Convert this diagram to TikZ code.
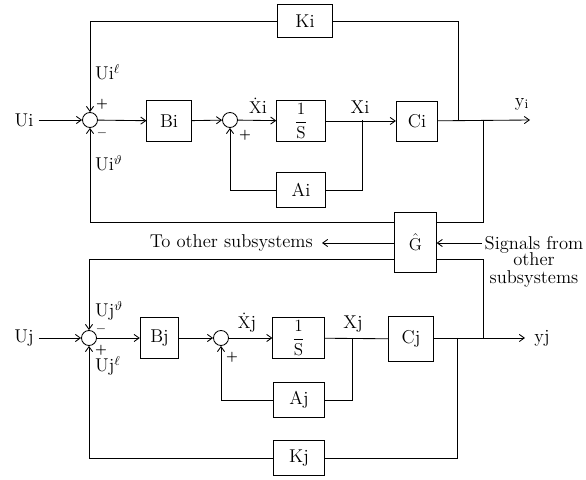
\documentclass[tikz,border=0pt]{standalone}
\usepackage{amsmath,amssymb}
\usepackage{tikz}
\usetikzlibrary{arrows.meta, positioning, calc}

\tikzset{
    blk/.style={draw, inner sep=0pt},
    sum/.style={draw, circle, minimum size=10.5pt, inner sep=0pt},
    sgn/.style={font=\small\bfseries, inner sep=0pt}
}

\begin{document}
\begin{tikzpicture}[x=0.7pt, y=-0.7pt, >={Straight Barb[length=3.5pt,width=5pt]}, line width=0.6pt, font=\fontsize{13pt}{15pt}\selectfont]

    \useasboundingbox (0,0) rectangle (586,480);

    % Subsystem i: forward path
    \node (Ui) at (24,120) {Ui};
    \node[sum] (si1) at (90,120) {};
    \node[blk, minimum width=31pt, minimum height=29pt] (Bi) at (169,121) {Bi};
    \node[sum] (si2) at (230,120) {};
    \node[blk, minimum width=34pt, minimum height=29pt] (Ii) at (301,121) {$\dfrac{1}{\mathrm{S}}$};
    \node[blk, minimum width=29pt, minimum height=28pt] (Ci) at (417,121) {Ci};
    \node[blk, minimum width=34pt, minimum height=25pt] (Ai) at (301,190) {Ai};
    \node[blk, minimum width=39pt, minimum height=23pt] (Ki) at (305,21) {Ki};
    \coordinate (yi) at (530,120);
    \coordinate (xitap) at (362,120);
    \coordinate (kitap) at (458,120);
    \coordinate (gitap) at (483,120);

    \draw[->] (Ui) -- (si1);
    \draw[->] (si1) -- (Bi);
    \draw[->] (Bi) -- (si2);
    \draw[->] (si2) -- (Ii);
    \draw[->] (Ii) -- (Ci);
    \draw[->] (Ci) -- (yi);

    % Subsystem i: feedback loops
    \draw (xitap) |- (Ai);
    \draw[->] (Ai) -| (si2);
    \draw (kitap) |- (Ki);
    \draw[->] (Ki) -| (si1);

    \node (dxi) at (258,106) {$\dot{\mathrm{X}}$i};
    \node (xi) at (360,107) {Xi};
    \node (yilab) at (522,104) {y$_{\text{i}}$};
    \node[right] (uil) at (90,72) {Ui$^{\ell}$};
    \node[right] (uiv) at (90,163) {Ui$^{\vartheta}$};
    \node[sgn] (pi1) at (102,104) {+};
    \node[sgn] (mi1) at (102,133) {$-$};
    \node[sgn] (pi2) at (245,135) {+};

    % Interconnection block
    \node[blk, minimum width=29pt, minimum height=42pt] (G) at (415.5,242) {$\hat{\mathrm{G}}$};
    \coordinate (rowa) at (0,222);
    \coordinate (rowb) at (0,243);
    \coordinate (rowc) at (0,259);
    \coordinate (toother) at (322,243);
    \coordinate (sigin) at (482,243);

    \node[left] (tolab) at (318,243) {To other subsystems};
    \node[align=center, inner sep=0pt] (siglab) at (534,262) {Signals from\\[-4pt] other\\[-2pt] subsystems};

    \draw (gitap) |- (G.east |- rowa);
    \draw[->] (G.west |- rowa) -| (si1);
    \draw[->] (G.west |- rowb) -- (toother);
    \draw[->] (sigin) -- (G.east |- rowb);

    % Subsystem j: forward path
    \node (Uj) at (24,338) {Uj};
    \node[sum] (sj1) at (89,338) {};
    \node[blk, minimum width=27pt, minimum height=29pt] (Bj) at (159.5,338) {Bj};
    \node[sum] (sj2) at (221,338) {};
    \node[blk, minimum width=36pt, minimum height=29pt] (Ij) at (298.5,338) {$\dfrac{1}{\mathrm{S}}$};
    \node[blk, minimum width=31pt, minimum height=31pt] (Cj) at (411,339) {Cj};
    \node[blk, minimum width=36pt, minimum height=25pt] (Aj) at (299,400) {Aj};
    \node[blk, minimum width=36pt, minimum height=24pt] (Kj) at (299,458) {Kj};
    \coordinate (yj) at (525,338);
    \coordinate (xjtap) at (352,338);
    \coordinate (kjtap) at (457,338);
    \coordinate (gjtap) at (483,338);

    \draw[->] (Uj) -- (sj1);
    \draw[->] (sj1) -- (Bj);
    \draw[->] (Bj) -- (sj2);
    \draw[->] (sj2) -- (Ij);
    \draw (Ij) -- (Cj);
    \draw[->] (Cj.east |- yj) -- (yj);

    % Subsystem j: feedback loops
    \draw (xjtap) |- (Aj);
    \draw[->] (Aj) -| (sj2);
    \draw (kjtap) |- (Kj);
    \draw[->] (Kj) -| (sj1);
    \draw[->] (G.west |- rowc) -| (sj1);
    \draw (G.east |- rowc) -| (gjtap);

    \node (dxj) at (247,323) {$\dot{\mathrm{X}}$j};
    \node (xj) at (353,324) {Xj};
    \node (yjlab) at (542,338) {yj};
    \node[right] (ujv) at (90,311) {Uj$^{\vartheta}$};
    \node[right] (ujl) at (90,366) {Uj$^{\ell}$};
    \node[sgn] (mj1) at (101,329) {$-$};
    \node[sgn] (pj1) at (101,350) {+};
    \node[sgn] (pj2) at (232,357) {+};

\end{tikzpicture}
\end{document}
